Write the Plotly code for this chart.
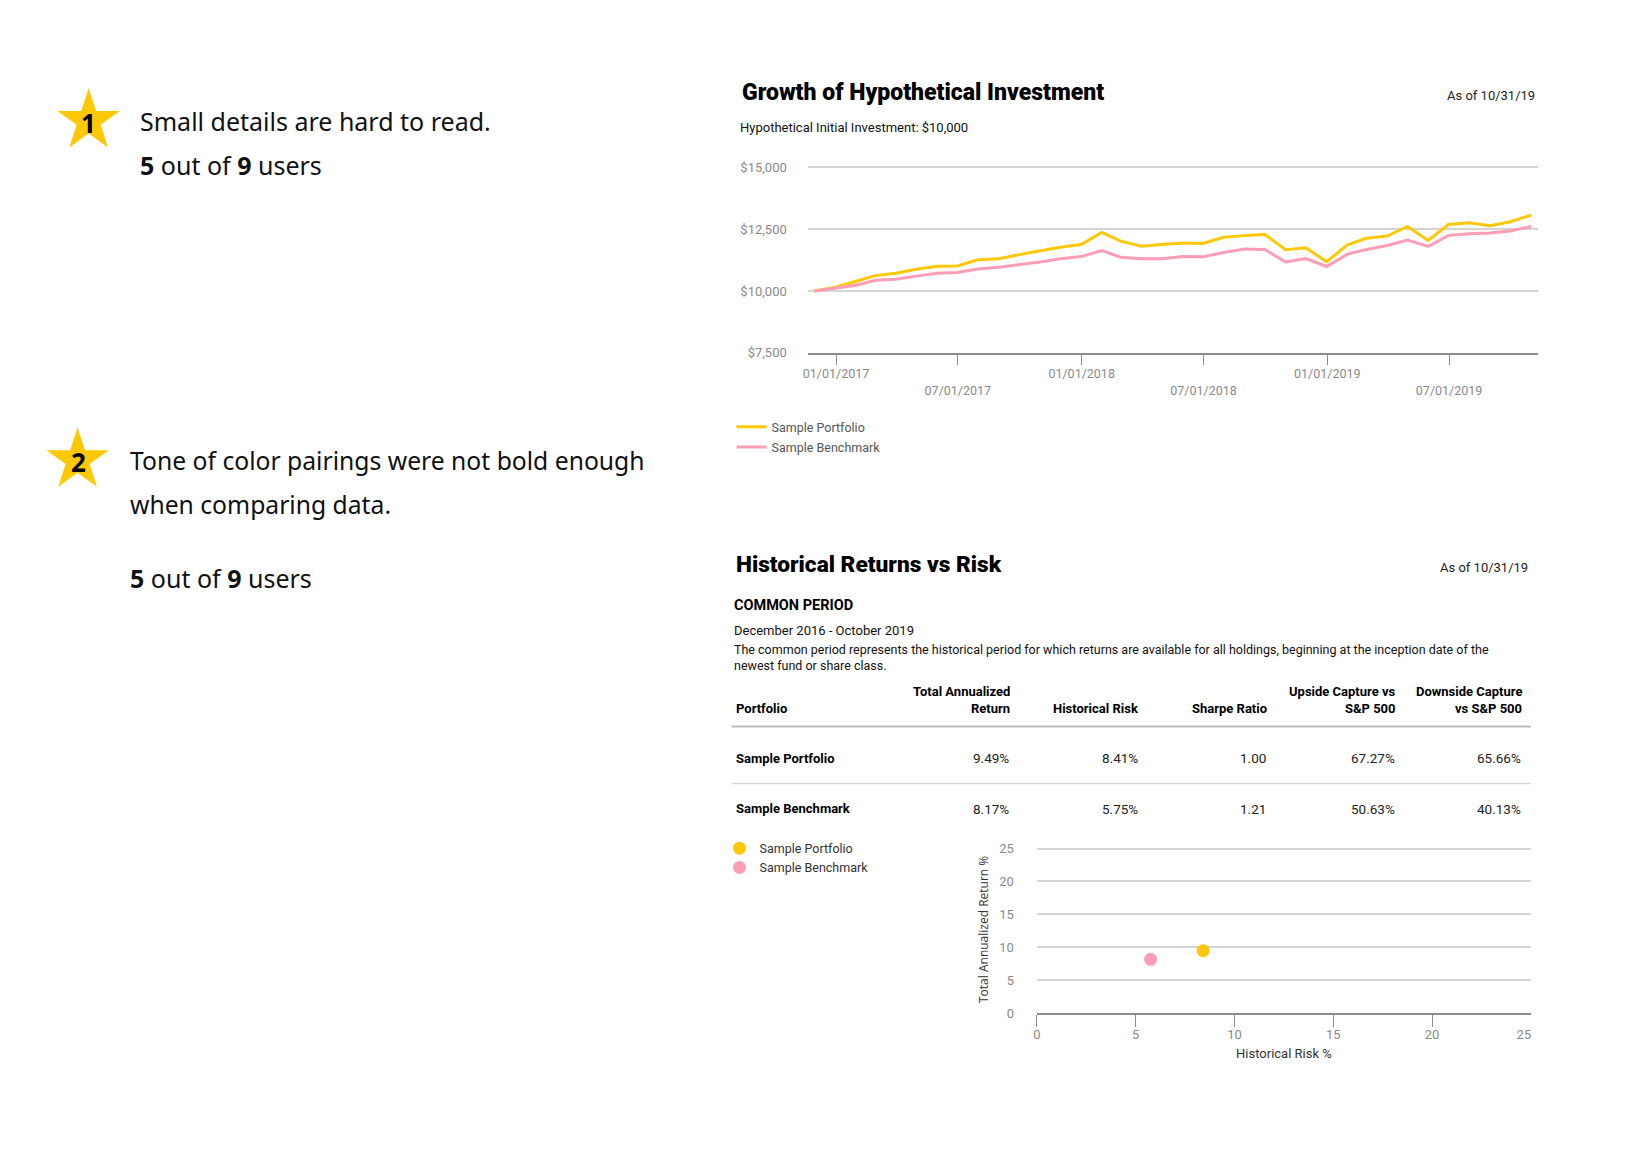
import calendar
import numpy as np
import plotly.graph_objects as go

W, H = 1640, 1160

# ---------------- data ----------------
portfolio_values = [10000, 10150, 10390, 10620, 10715, 10880, 11000, 11010, 11260, 11300,
                    11470, 11635, 11770, 11880, 12370, 12015, 11810, 11880, 11940, 11920,
                    12170, 12240, 12290, 11670, 11745, 11185, 11865, 12135, 12220, 12610,
                    12045, 12690, 12760, 12640, 12800, 13070]
benchmark_values = [10000, 10110, 10230, 10435, 10475, 10600, 10715, 10745, 10890, 10960,
                    11055, 11175, 11300, 11390, 11635, 11365, 11300, 11300, 11390, 11380,
                    11555, 11700, 11675, 11175, 11310, 10990, 11490, 11675, 11840, 12060,
                    11800, 12250, 12320, 12350, 12430, 12610]

x_tick_vals = ["2017-01-01", "2017-07-01", "2018-01-01", "2018-07-01", "2019-01-01", "2019-07-01"]
x_tick_text = ["01/01/2017", "<br>07/01/2017", "01/01/2018", "<br>07/01/2018", "01/01/2019", "<br>07/01/2019"]
y_tick_vals = [7500, 10000, 12500, 15000]
y_tick_text = ["$7,500", "$10,000", "$12,500", "$15,000"]

series_names = ["Sample Portfolio", "Sample Benchmark"]
total_return = [9.49, 8.17]
hist_risk = [8.41, 5.75]
sharpe = [1.00, 1.21]
upside_capture = [67.27, 50.63]
downside_capture = [65.66, 40.13]

table_header_top = ["", "Total Annualized", "", "", "Upside Capture vs", "Downside Capture"]
table_header_bottom = ["Portfolio", "Return", "Historical Risk", "Sharpe Ratio", "S&P 500", "vs S&P 500"]

scatter_ticks = [0, 5, 10, 15, 20, 25]

# month-end dates, Nov 2016 .. Oct 2019
dates = []
yy, mm = 2016, 11
for _ in range(len(portfolio_values)):
    dates.append(f"{yy}-{mm:02d}-{calendar.monthrange(yy, mm)[1]:02d}")
    mm += 1
    if mm > 12:
        mm, yy = 1, yy + 1

# ---------------- style ----------------
YELLOW = "#FFC805"
PINK = "#FF9DB6"
GRID = "#d4d4d4"
AXIS = "#8c8c8c"
TICK = "#8a8a8a"
DARK = "#1a1a1a"
FONT = "Roboto"
LEFT_FONT = "Noto Sans"


def X(x):
    return 0.9985 * (1.00756 * x - 13.7) - 1.0


def Y(y):
    return 1.0127 * y - 13.7 + 1.5 * (1 - y / 1000)


def px(x):
    return X(x) / W


def py(y):
    return 1 - Y(y) / H


def value_axis(bottom, top, vmin, vmax, pad_px=3):
    """Domain/range so that vmax sits pad_px below the plot top (keeps its gridline)."""
    b, t = Y(bottom), Y(top)
    per_px = (vmax - vmin) / (b - t)
    return [1 - b / H, 1 - (t - pad_px) / H], [vmin, vmax + pad_px * per_px]


fig = go.Figure()

for k, (name, vals, col) in enumerate([(series_names[0], portfolio_values, YELLOW),
                                       (series_names[1], benchmark_values, PINK)]):
    fig.add_trace(go.Scatter(x=dates, y=vals, mode="lines", name=name,
                             line=dict(color=col, width=3), legendgroup=f"g{k}",
                             xaxis="x", yaxis="y", legend="legend"))

# x2 and x3 share domain and range (x3 only carries the flush "25" label)
for i, (col, xa) in enumerate([(YELLOW, "x2"), (PINK, "x3")]):
    fig.add_trace(go.Scatter(x=[hist_risk[i]], y=[total_return[i]], mode="markers",
                             name=series_names[i], marker=dict(size=13, color=col),
                             xaxis=xa, yaxis="y2", legend="legend2"))

annotations = []
shapes = []


def text(x, y, s, size=12, color=DARK, anchor="left", family=FONT, weight=None):
    f = dict(family=family, size=size, color=color)
    if weight:
        f["weight"] = weight
    annotations.append(dict(x=px(x), y=py(y), xref="paper", yref="paper", text=s,
                            showarrow=False, xanchor=anchor, yanchor="middle",
                            align=anchor, font=f))


def star(cx, cy, R):
    cx, cy = X(cx), Y(cy)
    pts = []
    for k in range(10):
        r = R if k % 2 == 0 else R * 0.382
        a = -np.pi / 2 + k * np.pi / 5
        pts.append((cx + r * np.cos(a), cy + r * np.sin(a)))
    path = "M " + " L ".join(f"{a / W:.5f},{1 - b / H:.5f}" for a, b in pts) + " Z"
    shapes.append(dict(type="path", path=path, xref="paper", yref="paper",
                       fillcolor=YELLOW, line=dict(width=0), layer="below"))


# ---------------- left notes ----------------
star(90, 121, 33)
text(90, 123, "<b>1</b>", size=26, color="#000", anchor="center", family=LEFT_FONT)
text(139, 121, "Small details are hard to read.", size=25, family=LEFT_FONT, color="#111")
text(139, 165, "<b>5</b> out of <b>9</b> users", size=25, family=LEFT_FONT, color="#111")

star(79, 460, 33)
text(80, 462, "<b>2</b>", size=26, color="#000", anchor="center", family=LEFT_FONT)
text(129, 460, "Tone of color pairings were not bold enough", size=24.7, family=LEFT_FONT, color="#111")
text(129, 504, "when comparing data.", size=24.7, family=LEFT_FONT, color="#111")
text(129, 578, "<b>5</b> out of <b>9</b> users", size=25, family=LEFT_FONT, color="#111")

# ---------------- growth panel texts ----------------
text(739, 93, "Growth of Hypothetical Investment", size=23, weight=900, color="#000")
text(1534, 96, "As of 10/31/19", size=13, anchor="right", color="#222")
text(737, 127, "Hypothetical Initial Investment: $10,000", size=13, color="#111")

# ---------------- returns vs risk panel ----------------
text(733, 564, "Historical Returns vs Risk", size=22.7, weight=900, color="#000")
text(1527, 567, "As of 10/31/19", size=13, anchor="right", color="#222")
text(731, 605, "<b>COMMON PERIOD</b>", size=14.5, color="#000")
text(731, 630, "December 2016 - October 2019", size=13, color="#111")
text(731, 657.5, "The common period represents the historical period for which returns are available "
     "for all holdings, beginning at the inception date of the<br>newest fund or share class.",
     size=12.5, color="#111")

col_right = [None, 1011, 1139, 1267, 1395, 1521]
for j in range(6):
    if j == 0:
        x, anc = 733, "left"
    else:
        x, anc = col_right[j], "right"
    if table_header_top[j]:
        text(x, 691, f"<b>{table_header_top[j]}</b>", size=13, anchor=anc, color="#000")
    text(x, 708, f"<b>{table_header_bottom[j]}</b>", size=13, anchor=anc, color="#000")

row_y = [758, 808]
for i in range(2):
    cells = [f"{total_return[i]:.2f}%", f"{hist_risk[i]:.2f}%", f"{sharpe[i]:.2f}",
             f"{upside_capture[i]:.2f}%", f"{downside_capture[i]:.2f}%"]
    text(733, row_y[i], f"<b>{series_names[i]}</b>", size=13, color="#000")
    for j, c in enumerate(cells):
        text(col_right[j + 1] - 1, row_y[i], c, size=13.5, anchor="right", color="#222")

shapes.append(dict(type="line", xref="paper", yref="paper", x0=px(731), x1=px(1528),
                   y0=py(726), y1=py(726), line=dict(color="#bcbcbc", width=2)))
shapes.append(dict(type="line", xref="paper", yref="paper", x0=px(731), x1=px(1528),
                   y0=py(783), y1=py(783), line=dict(color="#d6d6d6", width=1.5)))

y1_domain, y1_range = value_axis(352.5, 167.4, 7500, 15000)
y2_domain, y2_range = value_axis(1012.5, 848, 0, 25)
x2_domain = [px(1035.5), px(1528)]

fig.update_layout(
    width=W, height=H,
    margin=dict(l=0, r=0, t=0, b=0),
    paper_bgcolor="white", plot_bgcolor="white",
    font=dict(family=FONT, size=12, color=DARK),
    annotations=annotations, shapes=shapes,
    showlegend=True,
    legend=dict(x=px(731), y=py(412), xanchor="left", yanchor="top",
                font=dict(family=FONT, size=12.5, color="#555"),
                bgcolor="rgba(0,0,0,0)", tracegroupgap=1, itemclick=False, itemdoubleclick=False),
    legend2=dict(x=px(719), y=py(833), xanchor="left", yanchor="top",
                 font=dict(family=FONT, size=12.5, color="#333"),
                 bgcolor="rgba(0,0,0,0)", tracegroupgap=0, itemclick=False, itemdoubleclick=False),
    xaxis=dict(domain=[px(807), px(1535)], anchor="y", type="date",
               range=["2016-11-20", "2019-11-10"],
               tickvals=x_tick_vals, ticktext=x_tick_text,
               ticks="outside", ticklen=11, tickwidth=1, tickcolor=AXIS, ticklabelstandoff=-2,
               showline=True, linecolor=AXIS, linewidth=1.5, showgrid=False, zeroline=False,
               tickfont=dict(family=FONT, size=12.5, color=TICK)),
    yaxis=dict(domain=y1_domain, anchor="x",
               range=y1_range, tickvals=y_tick_vals, ticktext=y_tick_text,
               showgrid=True, gridcolor=GRID, gridwidth=1.5,
               zeroline=False, showline=False, ticks="", ticklabelstandoff=20,
               tickfont=dict(family=FONT, size=13, color=TICK)),
    xaxis2=dict(domain=x2_domain, anchor="y2", range=[0, 25],
                tickvals=scatter_ticks[:-1], ticks="outside", ticklen=12, tickwidth=1, tickcolor=AXIS,
                ticklabelstandoff=-4,
                showline=True, linecolor=AXIS, linewidth=1.5, showgrid=False, zeroline=False,
                tickfont=dict(family=FONT, size=13, color=TICK),
                title=dict(text="Historical Risk %", font=dict(family=FONT, size=13, color="#333"),
                           standoff=8)),
    xaxis3=dict(domain=x2_domain, anchor="y2", overlaying="x2", range=[0, 25],
                tickvals=scatter_ticks[-1:], ticks="", ticklabelstandoff=12, ticklabelshift=-7,
                showline=False, showgrid=False, zeroline=False,
                tickfont=dict(family=FONT, size=13, color=TICK)),
    yaxis2=dict(domain=y2_domain, anchor="x2", range=y2_range,
                tickvals=scatter_ticks, showgrid=True, gridcolor=GRID, gridwidth=1.5,
                zeroline=False, showline=False, ticks="", ticklabelstandoff=22,
                tickfont=dict(family=FONT, size=13, color=TICK),
                title=dict(text="Total Annualized Return %",
                           font=dict(family="Open Sans", size=12, color="#333"), standoff=8)),
)

fig.write_html("out.html")
